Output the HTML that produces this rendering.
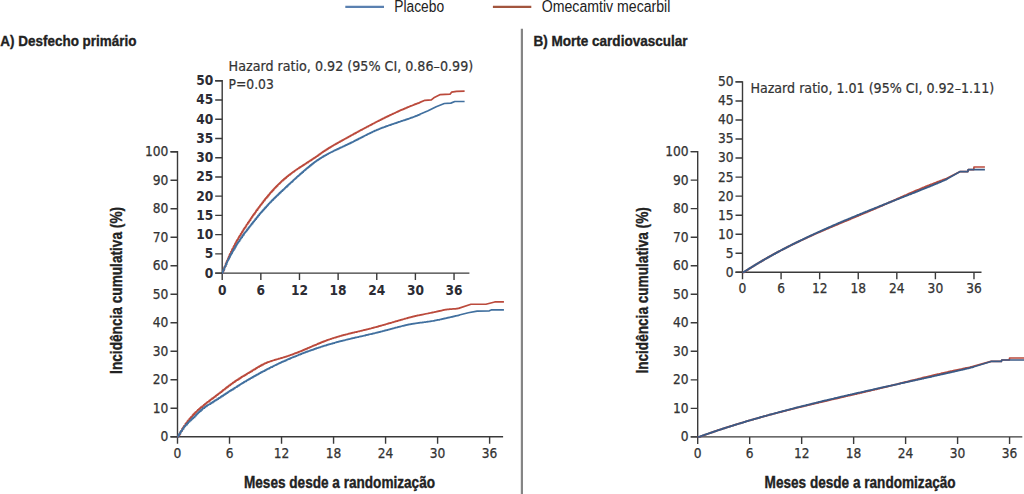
<!DOCTYPE html>
<html><head><meta charset="utf-8"><title>Kaplan-Meier</title>
<style>html,body{margin:0;padding:0;background:#fff;overflow:hidden}svg{display:block}</style>
</head><body>
<svg width="1024" height="494" viewBox="0 0 1024 494">
<rect width="1024" height="494" fill="#fff"/>
<path d="M345.3,6.9H384" stroke="#5a80b0" stroke-width="2.1"/>
<text x="394.3" y="11.6" font-family="'Liberation Sans',Arial,sans-serif" font-size="15.8" fill="#222" textLength="49.8" lengthAdjust="spacingAndGlyphs">Placebo</text>
<path d="M492.9,6.9H531.3" stroke="#a2553e" stroke-width="2.1"/>
<text x="541.8" y="11.6" font-family="'Liberation Sans',Arial,sans-serif" font-size="15.8" fill="#222" textLength="128.6" lengthAdjust="spacingAndGlyphs">Omecamtiv mecarbil</text>
<path d="M521.9,28.7V494" stroke="#858585" stroke-width="2.2"/>
<text x="0.3" y="45.6" font-family="'Liberation Sans',Arial,sans-serif" font-size="15.0" font-weight="bold" fill="#222" stroke="#222" stroke-width="0.35" textLength="136.2" lengthAdjust="spacingAndGlyphs">A) Desfecho primário</text>
<text x="533.4" y="46" font-family="'Liberation Sans',Arial,sans-serif" font-size="15.0" font-weight="bold" fill="#222" stroke="#222" stroke-width="0.35" textLength="154.2" lengthAdjust="spacingAndGlyphs">B) Morte cardiovascular</text>
<text x="244.0" y="487.6" font-family="'Liberation Sans',Arial,sans-serif" font-size="15.6" font-weight="bold" fill="#222" stroke="#222" stroke-width="0.35" textLength="191" lengthAdjust="spacingAndGlyphs">Meses desde a randomização</text>
<text x="764.6" y="487.6" font-family="'Liberation Sans',Arial,sans-serif" font-size="15.6" font-weight="bold" fill="#222" stroke="#222" stroke-width="0.35" textLength="191" lengthAdjust="spacingAndGlyphs">Meses desde a randomização</text>
<text transform="translate(122.0,373.9) rotate(-90)" x="0" y="0" font-family="'Liberation Sans',Arial,sans-serif" font-size="15.6" font-weight="bold" fill="#222" stroke="#222" stroke-width="0.35" textLength="167.0" lengthAdjust="spacingAndGlyphs">Incidência cumulativa (%)</text>
<text transform="translate(647.6,373.6) rotate(-90)" x="0" y="0" font-family="'Liberation Sans',Arial,sans-serif" font-size="15.6" font-weight="bold" fill="#222" stroke="#222" stroke-width="0.35" textLength="166.4" lengthAdjust="spacingAndGlyphs">Incidência cumulativa (%)</text>
<path d="M170.50,151.70H177.50V443.80" fill="none" stroke="#3a3a3a" stroke-width="1.4"/>
<path d="M170.50,436.80H503.10" fill="none" stroke="#3a3a3a" stroke-width="1.4"/>
<path d="M170.50,436.80H177.50M170.50,408.29H177.50M170.50,379.78H177.50M170.50,351.27H177.50M170.50,322.76H177.50M170.50,294.25H177.50M170.50,265.74H177.50M170.50,237.23H177.50M170.50,208.72H177.50M170.50,180.21H177.50M170.50,151.70H177.50M229.52,436.80V443.80M281.54,436.80V443.80M333.56,436.80V443.80M385.58,436.80V443.80M437.60,436.80V443.80M489.62,436.80V443.80" fill="none" stroke="#3a3a3a" stroke-width="1.4"/>
<text x="168.30" y="441.20" text-anchor="end" font-family="'DejaVu Sans Condensed','DejaVu Sans',sans-serif" font-size="13.6" font-weight="normal" fill="#333333" stroke="#333333" stroke-width="0.25">0</text>
<text x="168.30" y="412.69" text-anchor="end" font-family="'DejaVu Sans Condensed','DejaVu Sans',sans-serif" font-size="13.6" font-weight="normal" fill="#333333" stroke="#333333" stroke-width="0.25">10</text>
<text x="168.30" y="384.18" text-anchor="end" font-family="'DejaVu Sans Condensed','DejaVu Sans',sans-serif" font-size="13.6" font-weight="normal" fill="#333333" stroke="#333333" stroke-width="0.25">20</text>
<text x="168.30" y="355.67" text-anchor="end" font-family="'DejaVu Sans Condensed','DejaVu Sans',sans-serif" font-size="13.6" font-weight="normal" fill="#333333" stroke="#333333" stroke-width="0.25">30</text>
<text x="168.30" y="327.16" text-anchor="end" font-family="'DejaVu Sans Condensed','DejaVu Sans',sans-serif" font-size="13.6" font-weight="normal" fill="#333333" stroke="#333333" stroke-width="0.25">40</text>
<text x="168.30" y="298.65" text-anchor="end" font-family="'DejaVu Sans Condensed','DejaVu Sans',sans-serif" font-size="13.6" font-weight="normal" fill="#333333" stroke="#333333" stroke-width="0.25">50</text>
<text x="168.30" y="270.14" text-anchor="end" font-family="'DejaVu Sans Condensed','DejaVu Sans',sans-serif" font-size="13.6" font-weight="normal" fill="#333333" stroke="#333333" stroke-width="0.25">60</text>
<text x="168.30" y="241.63" text-anchor="end" font-family="'DejaVu Sans Condensed','DejaVu Sans',sans-serif" font-size="13.6" font-weight="normal" fill="#333333" stroke="#333333" stroke-width="0.25">70</text>
<text x="168.30" y="213.12" text-anchor="end" font-family="'DejaVu Sans Condensed','DejaVu Sans',sans-serif" font-size="13.6" font-weight="normal" fill="#333333" stroke="#333333" stroke-width="0.25">80</text>
<text x="168.30" y="184.61" text-anchor="end" font-family="'DejaVu Sans Condensed','DejaVu Sans',sans-serif" font-size="13.6" font-weight="normal" fill="#333333" stroke="#333333" stroke-width="0.25">90</text>
<text x="168.30" y="156.10" text-anchor="end" font-family="'DejaVu Sans Condensed','DejaVu Sans',sans-serif" font-size="13.6" font-weight="normal" fill="#333333" stroke="#333333" stroke-width="0.25">100</text>
<text x="177.50" y="458.20" text-anchor="middle" font-family="'DejaVu Sans Condensed','DejaVu Sans',sans-serif" font-size="13.6" font-weight="normal" fill="#333333" stroke="#333333" stroke-width="0.25">0</text>
<text x="229.52" y="458.20" text-anchor="middle" font-family="'DejaVu Sans Condensed','DejaVu Sans',sans-serif" font-size="13.6" font-weight="normal" fill="#333333" stroke="#333333" stroke-width="0.25">6</text>
<text x="281.54" y="458.20" text-anchor="middle" font-family="'DejaVu Sans Condensed','DejaVu Sans',sans-serif" font-size="13.6" font-weight="normal" fill="#333333" stroke="#333333" stroke-width="0.25">12</text>
<text x="333.56" y="458.20" text-anchor="middle" font-family="'DejaVu Sans Condensed','DejaVu Sans',sans-serif" font-size="13.6" font-weight="normal" fill="#333333" stroke="#333333" stroke-width="0.25">18</text>
<text x="385.58" y="458.20" text-anchor="middle" font-family="'DejaVu Sans Condensed','DejaVu Sans',sans-serif" font-size="13.6" font-weight="normal" fill="#333333" stroke="#333333" stroke-width="0.25">24</text>
<text x="437.60" y="458.20" text-anchor="middle" font-family="'DejaVu Sans Condensed','DejaVu Sans',sans-serif" font-size="13.6" font-weight="normal" fill="#333333" stroke="#333333" stroke-width="0.25">30</text>
<text x="489.62" y="458.20" text-anchor="middle" font-family="'DejaVu Sans Condensed','DejaVu Sans',sans-serif" font-size="13.6" font-weight="normal" fill="#333333" stroke="#333333" stroke-width="0.25">36</text>
<path d="M215.20,80.75H222.20V280.10" fill="none" stroke="#3a3a3a" stroke-width="1.4"/>
<path d="M215.20,273.10H469.40" fill="none" stroke="#3a3a3a" stroke-width="1.4"/>
<path d="M215.20,273.10H222.20M215.20,253.87H222.20M215.20,234.63H222.20M215.20,215.40H222.20M215.20,196.16H222.20M215.20,176.93H222.20M215.20,157.69H222.20M215.20,138.46H222.20M215.20,119.22H222.20M215.20,99.99H222.20M215.20,80.75H222.20M260.84,273.10V280.10M299.48,273.10V280.10M338.12,273.10V280.10M376.76,273.10V280.10M415.40,273.10V280.10M454.04,273.10V280.10" fill="none" stroke="#3a3a3a" stroke-width="1.4"/>
<text x="213.20" y="277.50" text-anchor="end" font-family="'DejaVu Sans Condensed','DejaVu Sans',sans-serif" font-size="13.6" font-weight="bold" fill="#2c2c34">0</text>
<text x="213.20" y="258.26" text-anchor="end" font-family="'DejaVu Sans Condensed','DejaVu Sans',sans-serif" font-size="13.6" font-weight="bold" fill="#2c2c34">5</text>
<text x="213.20" y="239.03" text-anchor="end" font-family="'DejaVu Sans Condensed','DejaVu Sans',sans-serif" font-size="13.6" font-weight="bold" fill="#2c2c34">10</text>
<text x="213.20" y="219.80" text-anchor="end" font-family="'DejaVu Sans Condensed','DejaVu Sans',sans-serif" font-size="13.6" font-weight="bold" fill="#2c2c34">15</text>
<text x="213.20" y="200.56" text-anchor="end" font-family="'DejaVu Sans Condensed','DejaVu Sans',sans-serif" font-size="13.6" font-weight="bold" fill="#2c2c34">20</text>
<text x="213.20" y="181.33" text-anchor="end" font-family="'DejaVu Sans Condensed','DejaVu Sans',sans-serif" font-size="13.6" font-weight="bold" fill="#2c2c34">25</text>
<text x="213.20" y="162.09" text-anchor="end" font-family="'DejaVu Sans Condensed','DejaVu Sans',sans-serif" font-size="13.6" font-weight="bold" fill="#2c2c34">30</text>
<text x="213.20" y="142.86" text-anchor="end" font-family="'DejaVu Sans Condensed','DejaVu Sans',sans-serif" font-size="13.6" font-weight="bold" fill="#2c2c34">35</text>
<text x="213.20" y="123.62" text-anchor="end" font-family="'DejaVu Sans Condensed','DejaVu Sans',sans-serif" font-size="13.6" font-weight="bold" fill="#2c2c34">40</text>
<text x="213.20" y="104.39" text-anchor="end" font-family="'DejaVu Sans Condensed','DejaVu Sans',sans-serif" font-size="13.6" font-weight="bold" fill="#2c2c34">45</text>
<text x="213.20" y="85.15" text-anchor="end" font-family="'DejaVu Sans Condensed','DejaVu Sans',sans-serif" font-size="13.6" font-weight="bold" fill="#2c2c34">50</text>
<text x="222.20" y="294.90" text-anchor="middle" font-family="'DejaVu Sans Condensed','DejaVu Sans',sans-serif" font-size="13.6" font-weight="bold" fill="#2c2c34">0</text>
<text x="260.84" y="294.90" text-anchor="middle" font-family="'DejaVu Sans Condensed','DejaVu Sans',sans-serif" font-size="13.6" font-weight="bold" fill="#2c2c34">6</text>
<text x="299.48" y="294.90" text-anchor="middle" font-family="'DejaVu Sans Condensed','DejaVu Sans',sans-serif" font-size="13.6" font-weight="bold" fill="#2c2c34">12</text>
<text x="338.12" y="294.90" text-anchor="middle" font-family="'DejaVu Sans Condensed','DejaVu Sans',sans-serif" font-size="13.6" font-weight="bold" fill="#2c2c34">18</text>
<text x="376.76" y="294.90" text-anchor="middle" font-family="'DejaVu Sans Condensed','DejaVu Sans',sans-serif" font-size="13.6" font-weight="bold" fill="#2c2c34">24</text>
<text x="415.40" y="294.90" text-anchor="middle" font-family="'DejaVu Sans Condensed','DejaVu Sans',sans-serif" font-size="13.6" font-weight="bold" fill="#2c2c34">30</text>
<text x="454.04" y="294.90" text-anchor="middle" font-family="'DejaVu Sans Condensed','DejaVu Sans',sans-serif" font-size="13.6" font-weight="bold" fill="#2c2c34">36</text>
<path d="M690.70,151.60H697.70V443.90" fill="none" stroke="#3a3a3a" stroke-width="1.4"/>
<path d="M690.70,436.90H1022.30" fill="none" stroke="#3a3a3a" stroke-width="1.4"/>
<path d="M690.70,436.90H697.70M690.70,408.37H697.70M690.70,379.84H697.70M690.70,351.31H697.70M690.70,322.78H697.70M690.70,294.25H697.70M690.70,265.72H697.70M690.70,237.19H697.70M690.70,208.66H697.70M690.70,180.13H697.70M690.70,151.60H697.70M749.68,436.90V443.90M801.66,436.90V443.90M853.63,436.90V443.90M905.61,436.90V443.90M957.59,436.90V443.90M1009.57,436.90V443.90" fill="none" stroke="#3a3a3a" stroke-width="1.4"/>
<text x="688.60" y="441.30" text-anchor="end" font-family="'DejaVu Sans Condensed','DejaVu Sans',sans-serif" font-size="13.6" font-weight="normal" fill="#333333" stroke="#333333" stroke-width="0.25">0</text>
<text x="688.60" y="412.77" text-anchor="end" font-family="'DejaVu Sans Condensed','DejaVu Sans',sans-serif" font-size="13.6" font-weight="normal" fill="#333333" stroke="#333333" stroke-width="0.25">10</text>
<text x="688.60" y="384.24" text-anchor="end" font-family="'DejaVu Sans Condensed','DejaVu Sans',sans-serif" font-size="13.6" font-weight="normal" fill="#333333" stroke="#333333" stroke-width="0.25">20</text>
<text x="688.60" y="355.71" text-anchor="end" font-family="'DejaVu Sans Condensed','DejaVu Sans',sans-serif" font-size="13.6" font-weight="normal" fill="#333333" stroke="#333333" stroke-width="0.25">30</text>
<text x="688.60" y="327.18" text-anchor="end" font-family="'DejaVu Sans Condensed','DejaVu Sans',sans-serif" font-size="13.6" font-weight="normal" fill="#333333" stroke="#333333" stroke-width="0.25">40</text>
<text x="688.60" y="298.65" text-anchor="end" font-family="'DejaVu Sans Condensed','DejaVu Sans',sans-serif" font-size="13.6" font-weight="normal" fill="#333333" stroke="#333333" stroke-width="0.25">50</text>
<text x="688.60" y="270.12" text-anchor="end" font-family="'DejaVu Sans Condensed','DejaVu Sans',sans-serif" font-size="13.6" font-weight="normal" fill="#333333" stroke="#333333" stroke-width="0.25">60</text>
<text x="688.60" y="241.59" text-anchor="end" font-family="'DejaVu Sans Condensed','DejaVu Sans',sans-serif" font-size="13.6" font-weight="normal" fill="#333333" stroke="#333333" stroke-width="0.25">70</text>
<text x="688.60" y="213.06" text-anchor="end" font-family="'DejaVu Sans Condensed','DejaVu Sans',sans-serif" font-size="13.6" font-weight="normal" fill="#333333" stroke="#333333" stroke-width="0.25">80</text>
<text x="688.60" y="184.53" text-anchor="end" font-family="'DejaVu Sans Condensed','DejaVu Sans',sans-serif" font-size="13.6" font-weight="normal" fill="#333333" stroke="#333333" stroke-width="0.25">90</text>
<text x="688.60" y="156.00" text-anchor="end" font-family="'DejaVu Sans Condensed','DejaVu Sans',sans-serif" font-size="13.6" font-weight="normal" fill="#333333" stroke="#333333" stroke-width="0.25">100</text>
<text x="697.70" y="458.20" text-anchor="middle" font-family="'DejaVu Sans Condensed','DejaVu Sans',sans-serif" font-size="13.6" font-weight="normal" fill="#333333" stroke="#333333" stroke-width="0.25">0</text>
<text x="749.68" y="458.20" text-anchor="middle" font-family="'DejaVu Sans Condensed','DejaVu Sans',sans-serif" font-size="13.6" font-weight="normal" fill="#333333" stroke="#333333" stroke-width="0.25">6</text>
<text x="801.66" y="458.20" text-anchor="middle" font-family="'DejaVu Sans Condensed','DejaVu Sans',sans-serif" font-size="13.6" font-weight="normal" fill="#333333" stroke="#333333" stroke-width="0.25">12</text>
<text x="853.63" y="458.20" text-anchor="middle" font-family="'DejaVu Sans Condensed','DejaVu Sans',sans-serif" font-size="13.6" font-weight="normal" fill="#333333" stroke="#333333" stroke-width="0.25">18</text>
<text x="905.61" y="458.20" text-anchor="middle" font-family="'DejaVu Sans Condensed','DejaVu Sans',sans-serif" font-size="13.6" font-weight="normal" fill="#333333" stroke="#333333" stroke-width="0.25">24</text>
<text x="957.59" y="458.20" text-anchor="middle" font-family="'DejaVu Sans Condensed','DejaVu Sans',sans-serif" font-size="13.6" font-weight="normal" fill="#333333" stroke="#333333" stroke-width="0.25">30</text>
<text x="1009.57" y="458.20" text-anchor="middle" font-family="'DejaVu Sans Condensed','DejaVu Sans',sans-serif" font-size="13.6" font-weight="normal" fill="#333333" stroke="#333333" stroke-width="0.25">36</text>
<path d="M735.50,81.90H742.50V279.30" fill="none" stroke="#3a3a3a" stroke-width="1.4"/>
<path d="M735.50,272.30H981.50" fill="none" stroke="#3a3a3a" stroke-width="1.4"/>
<path d="M735.50,272.30H742.50M735.50,253.26H742.50M735.50,234.22H742.50M735.50,215.18H742.50M735.50,196.14H742.50M735.50,177.10H742.50M735.50,158.06H742.50M735.50,139.02H742.50M735.50,119.98H742.50M735.50,100.94H742.50M735.50,81.90H742.50M781.08,272.30V279.30M819.66,272.30V279.30M858.24,272.30V279.30M896.82,272.30V279.30M935.40,272.30V279.30M973.98,272.30V279.30" fill="none" stroke="#3a3a3a" stroke-width="1.4"/>
<text x="733.60" y="276.70" text-anchor="end" font-family="'DejaVu Sans Condensed','DejaVu Sans',sans-serif" font-size="13.6" font-weight="normal" fill="#333333" stroke="#333333" stroke-width="0.25">0</text>
<text x="733.60" y="257.66" text-anchor="end" font-family="'DejaVu Sans Condensed','DejaVu Sans',sans-serif" font-size="13.6" font-weight="normal" fill="#333333" stroke="#333333" stroke-width="0.25">5</text>
<text x="733.60" y="238.62" text-anchor="end" font-family="'DejaVu Sans Condensed','DejaVu Sans',sans-serif" font-size="13.6" font-weight="normal" fill="#333333" stroke="#333333" stroke-width="0.25">10</text>
<text x="733.60" y="219.58" text-anchor="end" font-family="'DejaVu Sans Condensed','DejaVu Sans',sans-serif" font-size="13.6" font-weight="normal" fill="#333333" stroke="#333333" stroke-width="0.25">15</text>
<text x="733.60" y="200.54" text-anchor="end" font-family="'DejaVu Sans Condensed','DejaVu Sans',sans-serif" font-size="13.6" font-weight="normal" fill="#333333" stroke="#333333" stroke-width="0.25">20</text>
<text x="733.60" y="181.50" text-anchor="end" font-family="'DejaVu Sans Condensed','DejaVu Sans',sans-serif" font-size="13.6" font-weight="normal" fill="#333333" stroke="#333333" stroke-width="0.25">25</text>
<text x="733.60" y="162.46" text-anchor="end" font-family="'DejaVu Sans Condensed','DejaVu Sans',sans-serif" font-size="13.6" font-weight="normal" fill="#333333" stroke="#333333" stroke-width="0.25">30</text>
<text x="733.60" y="143.42" text-anchor="end" font-family="'DejaVu Sans Condensed','DejaVu Sans',sans-serif" font-size="13.6" font-weight="normal" fill="#333333" stroke="#333333" stroke-width="0.25">35</text>
<text x="733.60" y="124.38" text-anchor="end" font-family="'DejaVu Sans Condensed','DejaVu Sans',sans-serif" font-size="13.6" font-weight="normal" fill="#333333" stroke="#333333" stroke-width="0.25">40</text>
<text x="733.60" y="105.34" text-anchor="end" font-family="'DejaVu Sans Condensed','DejaVu Sans',sans-serif" font-size="13.6" font-weight="normal" fill="#333333" stroke="#333333" stroke-width="0.25">45</text>
<text x="733.60" y="86.30" text-anchor="end" font-family="'DejaVu Sans Condensed','DejaVu Sans',sans-serif" font-size="13.6" font-weight="normal" fill="#333333" stroke="#333333" stroke-width="0.25">50</text>
<text x="742.50" y="293.40" text-anchor="middle" font-family="'DejaVu Sans Condensed','DejaVu Sans',sans-serif" font-size="13.6" font-weight="normal" fill="#333333" stroke="#333333" stroke-width="0.25">0</text>
<text x="781.08" y="293.40" text-anchor="middle" font-family="'DejaVu Sans Condensed','DejaVu Sans',sans-serif" font-size="13.6" font-weight="normal" fill="#333333" stroke="#333333" stroke-width="0.25">6</text>
<text x="819.66" y="293.40" text-anchor="middle" font-family="'DejaVu Sans Condensed','DejaVu Sans',sans-serif" font-size="13.6" font-weight="normal" fill="#333333" stroke="#333333" stroke-width="0.25">12</text>
<text x="858.24" y="293.40" text-anchor="middle" font-family="'DejaVu Sans Condensed','DejaVu Sans',sans-serif" font-size="13.6" font-weight="normal" fill="#333333" stroke="#333333" stroke-width="0.25">18</text>
<text x="896.82" y="293.40" text-anchor="middle" font-family="'DejaVu Sans Condensed','DejaVu Sans',sans-serif" font-size="13.6" font-weight="normal" fill="#333333" stroke="#333333" stroke-width="0.25">24</text>
<text x="935.40" y="293.40" text-anchor="middle" font-family="'DejaVu Sans Condensed','DejaVu Sans',sans-serif" font-size="13.6" font-weight="normal" fill="#333333" stroke="#333333" stroke-width="0.25">30</text>
<text x="973.98" y="293.40" text-anchor="middle" font-family="'DejaVu Sans Condensed','DejaVu Sans',sans-serif" font-size="13.6" font-weight="normal" fill="#333333" stroke="#333333" stroke-width="0.25">36</text>
<path d="M177.50,436.80H178.55V434.73H179.97V432.24H180.71V430.98H182.12V428.69H183.01V427.32H183.98V425.85H185.30V423.97H186.26V422.64H187.34V421.21H187.99V420.38H189.24V418.84H190.31V417.57H191.21V416.54H192.49V415.13H193.37V414.20H194.37V413.17H195.11V412.43H196.07V411.50H196.86V410.74H197.70V409.96H198.95V408.84H199.81V408.08H200.84V407.20H202.28V405.99H203.70V404.83H204.93V403.85H206.01V403.00H206.86V402.33H207.62V401.75H209.05V400.65H210.10V399.85H210.82V399.31H211.97V398.45H213.24V397.49H214.37V396.64H215.76V395.59H216.42V395.09H217.48V394.28H218.49V393.50H219.16V392.98H220.32V392.08H221.66V391.04H222.77V390.16H223.61V389.51H224.94V388.48H225.99V387.67H227.04V386.86H228.29V385.91H229.03V385.35H230.34V384.37H231.53V383.50H232.81V382.59H233.60V382.04H234.89V381.16H235.67V380.63H236.36V380.17H237.70V379.29H239.04V378.43H240.40V377.57H241.41V376.94H242.26V376.41H242.89V376.03H244.06V375.32H245.28V374.58H246.60V373.78H247.46V373.27H248.26V372.78H249.42V372.09H250.71V371.31H252.14V370.45H252.89V369.99H253.91V369.37H255.28V368.53H256.26V367.94H257.37V367.27H258.02V366.89H259.20V366.20H260.59V365.42H261.90V364.71H263.27V364.01H264.44V363.45H265.27V363.07H266.53V362.54H267.33V362.22H268.65V361.73H269.33V361.49H270.64V361.05H271.40V360.81H272.33V360.52H273.22V360.25H274.42V359.90H275.19V359.68H276.15V359.41H276.78V359.23H277.62V358.99H278.60V358.70H279.31V358.49H280.46V358.15H281.40V357.86H282.63V357.48H283.80V357.11H284.78V356.80H286.13V356.36H287.28V355.98H288.57V355.54H289.48V355.23H290.56V354.85H291.35V354.58H292.80V354.05H293.63V353.75H294.47V353.44H295.15V353.18H295.99V352.87H297.25V352.38H298.45V351.91H299.19V351.62H300.12V351.24H301.10V350.84H302.28V350.36H303.28V349.94H304.39V349.47H305.71V348.90H306.94V348.37H307.87V347.97H308.87V347.54H309.80V347.13H310.51V346.82H311.31V346.48H312.17V346.10H313.05V345.72H313.94V345.33H315.04V344.86H316.48V344.25H317.75V343.71H319.03V343.17H320.28V342.65H321.41V342.20H322.79V341.65H323.99V341.18H325.03V340.79H325.72V340.53H326.75V340.15H327.55V339.86H328.29V339.60H329.33V339.24H330.61V338.81H331.48V338.52H332.74V338.11H333.81V337.77H334.55V337.54H335.98V337.11H336.94V336.82H337.81V336.57H339.14V336.18H339.87V335.98H341.10V335.63H341.88V335.42H342.83V335.16H343.65V334.94H344.98V334.59H345.92V334.35H347.36V333.98H348.50V333.69H349.71V333.39H350.76V333.13H351.65V332.92H352.60V332.68H354.01V332.34H354.80V332.15H356.25V331.81H357.50V331.51H358.42V331.29H359.58V331.01H360.52V330.78H361.47V330.56H362.51V330.31H363.15V330.16H364.18V329.91H365.62V329.56H366.48V329.35H367.72V329.04H368.72V328.79H369.52V328.59H370.89V328.24H371.53V328.07H372.41V327.85H373.86V327.46H374.71V327.24H376.04V326.88H377.17V326.57H378.46V326.21H379.61V325.88H380.54V325.62H381.79V325.27H382.44V325.08H383.44V324.79H384.37V324.53H385.39V324.23H386.12V324.02H386.93V323.78H388.02V323.46H388.97V323.19H390.25V322.81H391.38V322.48H392.72V322.09H393.96V321.73H395.08V321.40H395.94V321.15H397.22V320.78H398.05V320.54H398.74V320.34H400.17V319.94H401.24V319.63H402.51V319.27H403.57V318.98H404.71V318.67H405.36V318.49H406.14V318.28H407.32V317.96H408.42V317.66H409.18V317.47H410.60V317.10H411.35V316.91H412.40V316.65H413.14V316.46H414.36V316.16H415.22V315.96H415.95V315.79H416.62V315.63H417.39V315.46H418.17V315.28H419.24V315.05H420.24V314.83H421.66V314.54H423.08V314.25H424.37V314.00H425.55V313.77H426.88V313.51H428.28V313.24H428.93V313.12H429.65V312.98H430.57V312.80H431.27V312.66H432.40V312.43H433.24V312.26H434.08V312.09H434.95V311.90H435.65V311.75H436.89V311.47H438.06V311.20H439.19V310.94H439.84V310.78H440.82V310.55H442.02V310.27H442.77V310.11H443.72V309.91H444.36V309.79H445.05V309.66H445.85V309.53H446.82V309.40H447.83V309.29H449.19V309.17H450.08V309.11H450.72V309.06H452.04V308.98H452.71V308.94H453.41V308.89H454.84V308.78H456.09V308.65H457.00V308.54H457.73V308.42H458.68V308.25H459.27V308.13L470.98,304.23L485.89,304.23L494.74,301.95L503.93,301.95" fill="none" stroke="#bb4a3c" stroke-width="1.7" stroke-linejoin="round"/>
<path d="M177.50,436.80H178.34V435.22H179.21V433.72H180.52V431.63H181.22V430.58H182.34V428.99H183.57V427.37H184.35V426.40H185.02V425.61H185.88V424.64H187.05V423.37H188.14V422.24H188.89V421.49H189.87V420.52H191.05V419.39H192.03V418.47H193.18V417.38H194.61V416.02H195.80V414.85H196.75V413.90H197.53V413.12H198.45V412.22H199.50V411.20H200.86V409.94H202.13V408.84H203.02V408.13H204.41V407.11H205.43V406.41H206.63V405.64H207.35V405.19H208.06V404.75H208.85V404.26H210.21V403.41H211.40V402.66H212.73V401.82H213.89V401.09H214.85V400.47H215.91V399.80H217.03V399.08H218.37V398.22H219.36V397.58H220.72V396.69H221.86V395.96H223.17V395.11H224.21V394.43H225.41V393.65H226.32V393.06H227.38V392.38H228.18V391.86H228.89V391.40H229.55V390.97H230.76V390.20H231.76V389.55H233.13V388.67H234.45V387.83H235.40V387.23H236.83V386.32H237.95V385.62H239.21V384.84H240.17V384.24H240.96V383.76H241.73V383.29H242.50V382.82H243.63V382.13H244.35V381.70H244.99V381.32H246.30V380.53H247.01V380.12H248.01V379.53H249.04V378.93H250.18V378.26H251.23V377.66H252.63V376.86H253.88V376.16H254.98V375.54H256.12V374.90H257.17V374.33H258.59V373.55H259.41V373.10H260.60V372.46H261.69V371.88H262.35V371.53H263.22V371.07H264.62V370.33H265.89V369.67H266.53V369.34H267.40V368.90H268.03V368.57H269.34V367.91H270.06V367.55H270.73V367.21H272.17V366.50H273.17V366.01H274.06V365.57H274.72V365.25H275.67V364.79H276.60V364.35H277.66V363.85H278.29V363.55H279.04V363.20H279.84V362.82H280.83V362.37H281.70V361.96H282.84V361.45H283.70V361.06H285.08V360.44H286.51V359.80H287.18V359.51H287.98V359.16H289.07V358.69H290.34V358.14H291.01V357.85H291.79V357.52H292.80V357.10H293.98V356.61H295.35V356.05H296.70V355.50H297.98V354.98H298.65V354.72H300.09V354.15H301.23V353.71H301.92V353.44H302.76V353.11H303.90V352.68H304.84V352.32H305.84V351.95H307.13V351.47H308.44V350.99H309.52V350.60H310.81V350.14H311.77V349.80H313.20V349.30H314.33V348.91H315.76V348.43H316.42V348.20H317.78V347.75H318.87V347.39H320.09V347.00H320.87V346.74H321.96V346.40H322.82V346.12H323.53V345.90H324.16V345.71H325.54V345.28H326.72V344.92H327.52V344.68H328.35V344.43H329.37V344.14H330.67V343.76H331.39V343.55H332.82V343.14H334.23V342.75H335.06V342.52H336.22V342.21H337.14V341.96H338.35V341.64H339.04V341.46H340.06V341.19H341.17V340.91H342.32V340.62H343.52V340.31H344.89V339.98H345.71V339.77H346.46V339.59H347.41V339.36H348.51V339.10H349.93V338.76H351.15V338.47H352.39V338.18H353.82V337.85H354.67V337.65H355.51V337.46H356.49V337.24H357.36V337.04H358.52V336.77H359.94V336.45H360.69V336.28H361.75V336.04H362.93V335.77H363.97V335.53H365.35V335.22H366.59V334.93H367.95V334.62H368.67V334.46H369.45V334.27H370.13V334.12H371.45V333.81H372.87V333.47H373.51V333.32H374.79V333.02H376.02V332.72H377.40V332.39H378.25V332.18H379.47V331.88H380.29V331.67H380.98V331.50H382.22V331.18H382.88V331.01H384.09V330.70H384.95V330.47H385.98V330.20H387.34V329.83H388.17V329.61H389.19V329.33H390.11V329.08H390.89V328.86H391.91V328.58H392.68V328.37H393.97V328.02H395.11V327.71H395.97V327.48H397.40V327.09H398.31V326.85H399.50V326.55H400.73V326.23H401.58V326.02H402.21V325.87H403.58V325.54H405.00V325.21H405.76V325.04H406.51V324.88H407.50V324.67H408.62V324.44H410.07V324.17H411.49V323.92H412.94V323.68H413.77V323.55H414.89V323.38H415.88V323.24H416.70V323.13H417.37V323.03H418.14V322.93H419.06V322.81H419.76V322.72H420.51V322.62H421.17V322.54H422.31V322.39H423.35V322.26H424.17V322.15H425.24V322.01H426.21V321.87H427.39V321.70H428.79V321.50H429.71V321.35H430.87V321.16H431.67V321.02H433.08V320.78H434.22V320.57H434.97V320.43H435.81V320.27H436.57V320.12H437.34V319.96H438.22V319.79H439.53V319.52H440.54V319.30H441.39V319.12H442.36V318.91H443.21V318.72H444.45V318.45H445.12V318.29H445.98V318.10H446.88V317.89H447.65V317.71H448.89V317.43H449.67V317.25H450.54V317.04H451.21V316.88H452.46V316.59H453.39V316.37H454.56V316.09H455.37V315.90H456.01V315.75H456.90V315.54H458.17V315.25H459.27V314.99L468.29,312.78L477.14,311.07L489.36,310.79L491.18,309.93L503.93,309.93" fill="none" stroke="#41709f" stroke-width="1.7" stroke-linejoin="round"/>
<path d="M222.20,273.10H222.98V270.55H224.03V267.74H224.58V266.30H225.63V263.64H226.29V262.03H227.02V260.29H227.99V258.01H228.71V256.38H229.51V254.61H229.99V253.57H230.92V251.60H231.72V249.96H232.39V248.61H233.34V246.74H233.99V245.49H234.73V244.09H235.28V243.07H235.99V241.78H236.58V240.72H237.21V239.62H238.13V238.01H238.77V236.93H239.54V235.65H240.61V233.89H241.66V232.18H242.58V230.73H243.37V229.47H244.01V228.49H244.57V227.61H245.63V225.98H246.42V224.79H246.95V223.98H247.80V222.69H248.75V221.28H249.59V220.03H250.62V218.51H251.11V217.80H251.90V216.65H252.65V215.57H253.15V214.85H254.01V213.63H255.00V212.23H255.83V211.07H256.45V210.21H257.44V208.86H258.22V207.80H258.99V206.75H259.92V205.51H260.48V204.77H261.45V203.50H262.34V202.36H263.29V201.14H263.87V200.41H264.83V199.20H265.41V198.48H265.92V197.85H266.92V196.65H267.91V195.45H268.92V194.27H269.67V193.39H270.31V192.66H270.77V192.13H271.64V191.16H272.55V190.15H273.53V189.08H274.16V188.39H274.76V187.76H275.62V186.86H276.58V185.87H277.64V184.81H278.20V184.25H278.96V183.51H279.98V182.54H280.70V181.86H281.53V181.09H282.01V180.66H282.89V179.87H283.92V178.97H284.90V178.14H285.91V177.30H286.78V176.58H287.39V176.09H288.33V175.35H288.93V174.88H289.90V174.13H290.41V173.75H291.38V173.03H291.95V172.61H292.64V172.10H293.30V171.63H294.19V171.00H294.77V170.59H295.48V170.10H295.94V169.77H296.57V169.34H297.29V168.85H297.82V168.49H298.68V167.92H299.38V167.45H300.29V166.85H301.16V166.28H301.89V165.81H302.89V165.16H303.74V164.60H304.71V163.98H305.38V163.55H306.18V163.03H306.77V162.65H307.84V161.96H308.46V161.56H309.08V161.16H309.59V160.83H310.21V160.42H311.15V159.81H312.04V159.22H312.59V158.86H313.28V158.40H314.01V157.91H314.88V157.32H315.63V156.81H316.45V156.24H317.44V155.56H318.35V154.91H319.04V154.42H319.78V153.89H320.47V153.40H321.00V153.02H321.59V152.61H322.23V152.16H322.89V151.71H323.55V151.26H324.37V150.71H325.43V150.01H326.37V149.40H327.33V148.80H328.26V148.22H329.09V147.70H330.12V147.08H331.01V146.55H331.79V146.09H332.30V145.79H333.06V145.34H333.66V145.00H334.20V144.68H334.98V144.24H335.93V143.69H336.58V143.33H337.51V142.80H338.30V142.35H338.86V142.04H339.92V141.45H340.63V141.05H341.28V140.69H342.26V140.14H342.81V139.84H343.72V139.33H344.30V139.01H345.01V138.62H345.62V138.28H346.60V137.74H347.30V137.35H348.37V136.76H349.22V136.29H350.11V135.80H350.90V135.37H351.55V135.01H352.26V134.62H353.31V134.04H353.90V133.72H354.97V133.13H355.90V132.62H356.59V132.25H357.45V131.78H358.15V131.40H358.85V131.02H359.62V130.60H360.10V130.34H360.87V129.93H361.93V129.35H362.57V129.01H363.50V128.51H364.23V128.12H364.83V127.80H365.85V127.25H366.32V127.00H366.98V126.66H368.06V126.08H368.68V125.75H369.67V125.23H370.51V124.79H371.47V124.29H372.33V123.84H373.01V123.48H373.95V123.00H374.43V122.75H375.17V122.37H375.86V122.01H376.62V121.62H377.16V121.35H377.76V121.04H378.57V120.63H379.28V120.27H380.23V119.79H381.07V119.37H382.06V118.87H382.98V118.41H383.82V118.00H384.46V117.68H385.41V117.22H386.02V116.91H386.54V116.67H387.59V116.15H388.39V115.77H389.33V115.31H390.12V114.94H390.97V114.54H391.45V114.31H392.03V114.03H392.91V113.62H393.73V113.24H394.29V112.98H395.34V112.49H395.90V112.24H396.68V111.88H397.23V111.63H398.14V111.22H398.77V110.94H399.32V110.69H399.81V110.47H400.38V110.22H400.97V109.96H401.76V109.61H402.51V109.29H403.56V108.83H404.61V108.38H405.57V107.98H406.45V107.61H407.44V107.20H408.48V106.77H408.96V106.57H409.49V106.35H410.18V106.07H410.70V105.86H411.54V105.53H412.16V105.28H412.79V105.03H413.43V104.78H413.95V104.58H414.88V104.22H415.74V103.89H416.58V103.58H417.06V103.40H417.79V103.13H418.68V102.80H419.24V102.60H419.91V102.35L424.93,100.29L431.31,99.91L433.82,97.79L440.32,94.60L449.98,94.21L451.59,92.18L456.49,91.29L464.60,91.21" fill="none" stroke="#bb4a3c" stroke-width="1.7" stroke-linejoin="round"/>
<path d="M222.20,273.10H222.83V270.93H223.47V269.40H224.44V267.18H224.96V266.02H225.80V264.19H226.71V262.24H227.29V261.03H227.79V260.01H228.42V258.73H229.29V257.02H230.10V255.47H230.66V254.42H231.39V253.07H232.27V251.49H232.99V250.22H233.85V248.75H234.91V246.97H235.80V245.53H236.50V244.40H237.08V243.49H237.76V242.44H238.54V241.26H239.55V239.75H240.50V238.37H241.16V237.43H242.19V235.97H242.95V234.92H243.84V233.71H244.37V232.99H244.90V232.28H245.49V231.50H246.50V230.17H247.38V229.02H248.37V227.74H249.23V226.64H249.95V225.73H250.73V224.73H251.56V223.68H252.56V222.42H253.29V221.50H254.31V220.23H255.15V219.19H256.13V217.99H256.90V217.04H257.79V215.96H258.46V215.15H259.25V214.22H259.85V213.51H260.37V212.89H260.86V212.32H261.76V211.28H262.50V210.43H263.52V209.27H264.50V208.18H265.20V207.40H266.27V206.24H267.10V205.35H268.04V204.35H268.75V203.60H269.34V202.98H269.91V202.39H270.48V201.80H271.32V200.94H271.85V200.40H272.33V199.91H273.31V198.93H273.83V198.41H274.57V197.67H275.34V196.92H276.19V196.09H276.96V195.33H278.01V194.33H278.93V193.44H279.75V192.66H280.60V191.86H281.37V191.12H282.44V190.13H283.04V189.56H283.93V188.73H284.74V187.98H285.22V187.53H285.87V186.93H286.91V185.97H287.86V185.09H288.33V184.66H288.98V184.06H289.45V183.62H290.42V182.73H290.95V182.24H291.45V181.78H292.52V180.80H293.26V180.12H293.92V179.52H294.42V179.07H295.12V178.43H295.81V177.80H296.60V177.09H297.07V176.67H297.62V176.17H298.22V175.64H298.95V174.98H299.60V174.40H300.44V173.65H301.08V173.09H302.11V172.19H303.17V171.27H303.67V170.83H304.26V170.32H305.07V169.62H306.01V168.82H306.52V168.39H307.10V167.90H307.84V167.28H308.72V166.55H309.74V165.71H310.74V164.90H311.69V164.15H312.19V163.76H313.26V162.94H314.10V162.31H314.62V161.93H315.24V161.48H316.09V160.87H316.79V160.38H317.53V159.88H318.49V159.24H319.46V158.60H320.27V158.09H321.22V157.50H321.93V157.06H323.00V156.42H323.84V155.93H324.90V155.32H325.39V155.05H326.40V154.49H327.21V154.05H328.11V153.56H328.70V153.26H329.50V152.84H330.14V152.51H330.67V152.24H331.14V152.00H332.16V151.49H333.04V151.06H333.63V150.77H334.25V150.46H335.01V150.10H335.97V149.64H336.51V149.39H337.57V148.89H338.62V148.40H339.24V148.11H340.10V147.71H340.78V147.39H341.68V146.98H342.19V146.74H342.95V146.39H343.78V146.00H344.63V145.61H345.52V145.19H346.53V144.72H347.15V144.43H347.70V144.16H348.41V143.82H349.22V143.43H350.28V142.92H351.19V142.47H352.11V142.01H353.17V141.48H353.80V141.16H354.42V140.84H355.15V140.47H355.80V140.14H356.66V139.70H357.71V139.15H358.27V138.86H359.06V138.46H359.94V138.00H360.71V137.60H361.74V137.07H362.65V136.59H363.66V136.08H364.20V135.80H364.78V135.50H365.29V135.25H366.26V134.75H367.32V134.22H367.79V133.99H368.75V133.52H369.66V133.07H370.68V132.58H371.31V132.28H372.22V131.86H372.83V131.58H373.34V131.34H374.27V130.93H374.76V130.71H375.65V130.32H376.29V130.04H377.06V129.72H378.07V129.29H378.68V129.04H379.44V128.74H380.12V128.46H380.70V128.23H381.46V127.94H382.04V127.72H382.99V127.35H383.84V127.03H384.48V126.80H385.54V126.41H386.22V126.16H387.10V125.85H388.01V125.52H388.64V125.30H389.11V125.14H390.13V124.79H391.18V124.42H391.75V124.23H392.31V124.04H393.04V123.80H393.87V123.52H394.95V123.16H396.01V122.80H397.08V122.45H397.70V122.25H398.53V121.97H399.27V121.73H399.87V121.53H400.38V121.36H400.94V121.17H401.63V120.94H402.15V120.77H402.70V120.59H403.20V120.42H404.05V120.14H404.81V119.88H405.43V119.67H406.22V119.40H406.94V119.15H407.81V118.85H408.85V118.49H409.54V118.25H410.40V117.94H411.00V117.72H412.04V117.34H412.89V117.03H413.45V116.82H414.07V116.59H414.63V116.38H415.21V116.16H415.86V115.90H416.84V115.52H417.58V115.22H418.22V114.97H418.94V114.67H419.57V114.41H419.91V114.27L428.09,110.80L436.20,106.72L444.32,103.49L450.82,103.10L454.81,101.52L464.60,101.52" fill="none" stroke="#41709f" stroke-width="1.7" stroke-linejoin="round"/>
<path d="M697.70,436.90H698.75V436.90H700.16V436.41H700.91V436.14H702.32V435.62H703.20V435.30H704.18V434.95H705.49V434.48H706.45V434.13H707.54V433.75H708.18V433.52H709.43V433.08H710.50V432.70H711.40V432.39H712.68V431.94H713.56V431.64H714.56V431.30H715.29V431.05H716.25V430.72H717.05V430.45H717.89V430.17H719.13V429.75H719.99V429.46H721.02V429.12H722.46V428.65H723.88V428.18H725.11V427.78H726.18V427.43H727.04V427.16H727.79V426.91H729.22V426.46H730.28V426.12H731.00V425.89H732.14V425.53H733.41V425.14H734.54V424.78H735.93V424.35H736.59V424.15H737.65V423.83H738.65V423.52H739.33V423.31H740.49V422.96H741.82V422.56H742.94V422.23H743.78V421.98H745.10V421.58H746.15V421.27H747.20V420.97H748.45V420.60H749.19V420.38H750.50V420.01H751.69V419.66H752.97V419.30H753.75V419.07H755.04V418.70H755.83V418.48H756.52V418.29H757.85V417.91H759.19V417.54H760.54V417.16H761.56V416.88H762.41V416.65H763.04V416.47H764.20V416.16H765.42V415.82H766.74V415.47H767.60V415.23H768.40V415.02H769.56V414.71H770.85V414.36H772.28V413.98H773.03V413.79H774.05V413.52H775.42V413.16H776.40V412.90H777.51V412.61H778.15V412.44H779.34V412.14H780.73V411.78H782.04V411.44H783.40V411.09H784.57V410.80H785.40V410.59H786.66V410.27H787.46V410.06H788.78V409.73H789.45V409.56H790.76V409.24H791.52V409.05H792.46V408.81H793.34V408.59H794.54V408.30H795.32V408.11H796.27V407.87H796.90V407.72H797.74V407.51H798.71V407.27H799.43V407.10H800.58V406.82H801.52V406.59H802.74V406.29H803.91V406.01H804.89V405.77H806.24V405.45H807.39V405.17H808.68V404.86H809.59V404.64H810.67V404.39H811.46V404.20H812.91V403.86H813.73V403.66H814.57V403.46H815.26V403.30H816.09V403.10H817.35V402.81H818.56V402.52H819.29V402.35H820.22V402.13H821.20V401.90H822.37V401.63H823.38V401.39H824.49V401.13H825.81V400.82H827.04V400.54H827.97V400.32H828.96V400.09H829.89V399.87H830.61V399.71H831.40V399.52H832.26V399.32H833.14V399.12H834.03V398.91H835.13V398.66H836.56V398.33H837.83V398.03H839.11V397.74H840.37V397.45H841.49V397.19H842.88V396.87H844.07V396.59H845.11V396.35H845.80V396.19H846.83V395.95H847.63V395.77H848.37V395.60H849.41V395.36H850.69V395.06H851.56V394.86H852.82V394.57H853.88V394.32H854.63V394.15H856.05V393.82H857.01V393.60H857.88V393.39H859.21V393.09H859.94V392.92H861.17V392.63H861.95V392.45H862.90V392.23H863.72V392.03H865.04V391.72H865.99V391.50H867.42V391.17H868.57V390.90H869.77V390.61H870.82V390.36H871.71V390.16H872.66V389.93H874.06V389.60H874.86V389.41H876.30V389.07H877.56V388.77H878.48V388.55H879.64V388.27H880.58V388.04H881.52V387.82H882.56V387.57H883.20V387.41H884.23V387.16H885.66V386.81H886.52V386.60H887.77V386.30H888.76V386.06H889.56V385.86H890.94V385.52H891.57V385.37H892.45V385.15H893.91V384.79H894.75V384.59H896.08V384.26H897.20V383.98H898.50V383.66H899.65V383.37H900.57V383.14H901.83V382.83H902.47V382.67H903.47V382.42H904.40V382.19H905.42V381.93H906.15V381.75H906.96V381.55H908.05V381.28H909.00V381.04H910.28V380.72H911.41V380.44H912.75V380.11H913.98V379.81H915.10V379.53H915.97V379.31H917.24V379.00H918.08V378.79H918.76V378.63H920.19V378.28H921.26V378.01H922.53V377.70H923.59V377.44H924.72V377.17H925.37V377.01H926.15V376.82H927.34V376.54H928.44V376.27H929.19V376.09H930.61V375.75H931.36V375.58H932.41V375.33H933.15V375.15H934.37V374.87H935.23V374.67H935.96V374.49H936.62V374.34H937.39V374.16H938.17V373.98H939.25V373.73H940.24V373.51H941.66V373.18H943.08V372.86H944.37V372.57H945.55V372.31H946.88V372.02H948.28V371.71H948.92V371.57H949.64V371.41H950.57V371.21H951.27V371.06H952.39V370.82H953.23V370.64H954.08V370.45H954.94V370.27H955.64V370.12H956.88V369.85H958.05V369.61H959.18V369.37H959.83V369.23H960.81V369.02H962.00V368.77H962.76V368.61H963.70V368.41H964.34V368.27H965.03V368.12H965.84V367.95H966.81V367.75H967.82V367.53H969.17V367.24H970.06V367.05H970.70V366.91H972.01V366.63H972.69V366.49H973.18V366.38L991.03,361.44L1001.34,361.44L1001.77,360.01L1009.31,360.01L1009.57,358.01L1024.30,358.01" fill="none" stroke="#bb4a3c" stroke-width="1.7" stroke-linejoin="round"/>
<path d="M697.70,436.90H698.54V436.84H699.41V436.53H700.71V436.07H701.41V435.82H702.54V435.42H703.77V434.99H704.55V434.71H705.22V434.48H706.07V434.18H707.24V433.77H708.33V433.40H709.08V433.14H710.06V432.80H711.24V432.40H712.22V432.07H713.37V431.68H714.80V431.20H715.99V430.80H716.94V430.48H717.72V430.22H718.63V429.92H719.68V429.57H721.04V429.13H722.31V428.71H723.20V428.42H724.59V427.97H725.61V427.65H726.81V427.26H727.52V427.03H728.23V426.81H729.02V426.56H730.38V426.13H731.57V425.75H732.90V425.34H734.06V424.97H735.02V424.68H736.08V424.35H737.19V424.01H738.53V423.60H739.52V423.29H740.89V422.88H742.02V422.54H743.34V422.14H744.37V421.83H745.57V421.47H746.48V421.20H747.54V420.89H748.34V420.65H749.05V420.44H749.71V420.25H750.91V419.90H751.92V419.61H753.29V419.21H754.60V418.83H755.55V418.55H756.98V418.14H758.10V417.82H759.36V417.47H760.32V417.19H761.11V416.97H761.87V416.75H762.65V416.54H763.78V416.22H764.49V416.02H765.13V415.84H766.45V415.48H767.16V415.28H768.15V415.01H769.18V414.72H770.32V414.41H771.37V414.12H772.77V413.74H774.02V413.40H775.12V413.10H776.26V412.80H777.30V412.52H778.73V412.13H779.54V411.92H780.74V411.60H781.82V411.31H782.48V411.14H783.35V410.91H784.75V410.54H786.02V410.20H786.66V410.04H787.53V409.81H788.16V409.65H789.47V409.30H790.19V409.12H790.86V408.95H792.30V408.57H793.29V408.32H794.18V408.09H794.84V407.92H795.79V407.68H796.72V407.44H797.78V407.17H798.41V407.01H799.16V406.82H799.95V406.62H800.94V406.37H801.82V406.15H802.95V405.86H803.81V405.64H805.19V405.30H806.62V404.94H807.29V404.78H808.09V404.58H809.18V404.31H810.45V403.99H811.12V403.83H811.90V403.63H812.90V403.39H814.08V403.10H815.46V402.76H816.80V402.43H818.09V402.12H818.75V401.96H820.19V401.61H821.33V401.34H822.02V401.17H822.86V400.97H824.00V400.69H824.94V400.47H825.94V400.23H827.23V399.92H828.54V399.61H829.62V399.35H830.90V399.05H831.86V398.82H833.30V398.48H834.42V398.22H835.85V397.88H836.51V397.73H837.87V397.41H838.96V397.15H840.17V396.87H840.96V396.69H842.04V396.44H842.90V396.23H843.61V396.07H844.24V395.92H845.62V395.61H846.80V395.33H847.59V395.15H848.43V394.96H849.44V394.73H850.75V394.43H851.47V394.26H852.90V393.93H854.31V393.61H855.13V393.42H856.29V393.16H857.21V392.95H858.42V392.68H859.11V392.52H860.13V392.29H861.24V392.04H862.39V391.78H863.59V391.51H864.95V391.20H865.78V391.02H866.53V390.85H867.48V390.63H868.57V390.39H869.99V390.07H871.21V389.80H872.45V389.52H873.88V389.20H874.73V389.01H875.57V388.83H876.54V388.61H877.41V388.42H878.58V388.16H879.99V387.84H880.74V387.68H881.80V387.44H882.98V387.18H884.02V386.95H885.40V386.65H886.64V386.37H888.00V386.08H888.71V385.92H889.50V385.74H890.18V385.59H891.49V385.31H892.92V384.99H893.55V384.85H894.83V384.57H896.06V384.30H897.44V384.00H898.29V383.81H899.51V383.55H900.33V383.37H901.01V383.21H902.26V382.94H902.92V382.80H904.12V382.53H904.98V382.35H906.01V382.12H907.38V381.82H908.20V381.64H909.21V381.42H910.13V381.22H910.92V381.04H911.93V380.82H912.71V380.65H914.00V380.37H915.13V380.12H915.99V379.93H917.42V379.62H918.33V379.42H919.52V379.16H920.75V378.89H921.59V378.70H922.23V378.56H923.59V378.26H925.01V377.95H925.78V377.78H926.53V377.61H927.51V377.40H928.63V377.15H930.08V376.83H931.51V376.52H932.95V376.20H933.78V376.01H934.90V375.76H935.89V375.54H936.70V375.36H937.38V375.21H938.14V375.04H939.07V374.84H939.76V374.68H940.51V374.51H941.17V374.37H942.32V374.11H943.35V373.88H944.18V373.70H945.24V373.46H946.21V373.24H947.39V372.97H948.78V372.66H949.70V372.45H950.86V372.19H951.67V372.01H953.07V371.69H954.21V371.43H954.97V371.26H955.80V371.06H956.56V370.89H957.33V370.71H958.21V370.51H959.52V370.21H960.52V369.98H961.38V369.78H962.35V369.55H963.20V369.35H964.43V369.06H965.10V368.91H965.97V368.70H966.86V368.49H967.63V368.31H968.87V368.01H969.65V367.83H970.52V367.62H971.19V367.46H972.44V367.15H973.18V366.98L991.03,361.44L1001.34,361.44L1001.77,360.01L1024.30,360.01" fill="none" stroke="#3a5a86" stroke-width="1.7" stroke-linejoin="round"/>
<path d="M742.50,272.30H743.28V272.30H744.33V271.65H744.88V271.28H745.93V270.59H746.58V270.17H747.31V269.69H748.28V269.06H749.00V268.60H749.80V268.09H750.28V267.78H751.21V267.20H752.00V266.69H752.67V266.28H753.62V265.68H754.27V265.28H755.01V264.82H755.56V264.49H756.27V264.05H756.86V263.69H757.48V263.31H758.41V262.76H759.05V262.37H759.81V261.92H760.88V261.28H761.93V260.66H762.84V260.13H763.64V259.66H764.27V259.29H764.84V258.97H765.90V258.36H766.68V257.91H767.21V257.61H768.06V257.13H769.00V256.60H769.85V256.13H770.88V255.55H771.36V255.28H772.15V254.85H772.90V254.44H773.40V254.16H774.26V253.70H775.25V253.16H776.08V252.71H776.70V252.38H777.68V251.86H778.46V251.44H779.24V251.03H780.17V250.55H780.72V250.25H781.69V249.75H782.57V249.29H783.52V248.80H784.10V248.50H785.06V248.01H785.64V247.72H786.16V247.46H787.15V246.96H788.14V246.46H789.15V245.96H789.90V245.58H790.53V245.27H791.00V245.04H791.86V244.61H792.77V244.17H793.75V243.69H794.38V243.38H794.98V243.09H795.84V242.68H796.80V242.22H797.85V241.71H798.41V241.45H799.17V241.09H800.19V240.61H800.91V240.27H801.74V239.88H802.22V239.66H803.09V239.25H804.12V238.77H805.10V238.32H806.11V237.86H806.98V237.46H807.59V237.18H808.53V236.75H809.12V236.48H810.10V236.04H810.60V235.81H811.57V235.38H812.14V235.12H812.83V234.81H813.49V234.52H814.38V234.12H814.95V233.87H815.66V233.55H816.13V233.35H816.75V233.07H817.48V232.75H818.00V232.52H818.86V232.15H819.56V231.84H820.47V231.45H821.33V231.07H822.06V230.75H823.06V230.32H823.91V229.95H824.88V229.54H825.55V229.25H826.35V228.91H826.93V228.66H828.01V228.20H828.62V227.93H829.25V227.67H829.75V227.45H830.38V227.19H831.31V226.79H832.20V226.41H832.75V226.18H833.44V225.89H834.16V225.59H835.04V225.22H835.78V224.91H836.61V224.56H837.59V224.15H838.50V223.77H839.19V223.48H839.93V223.17H840.62V222.88H841.15V222.66H841.74V222.41H842.38V222.15H843.03V221.87H843.69V221.60H844.51V221.26H845.57V220.82H846.51V220.42H847.46V220.03H848.39V219.64H849.23V219.30H850.26V218.87H851.14V218.50H851.92V218.18H852.43V217.97H853.19V217.65H853.78V217.40H854.33V217.18H855.11V216.85H856.05V216.46H856.70V216.19H857.64V215.80H858.42V215.47H858.98V215.24H860.04V214.80H860.75V214.50H861.39V214.23H862.38V213.82H862.92V213.59H863.83V213.21H864.41V212.97H865.12V212.67H865.72V212.42H866.71V212.00H867.41V211.71H868.47V211.26H869.32V210.90H870.21V210.52H871.00V210.19H871.65V209.91H872.36V209.61H873.40V209.16H873.99V208.91H875.06V208.45H876.00V208.06H876.68V207.76H877.54V207.39H878.24V207.09H878.94V206.79H879.71V206.45H880.18V206.25H880.95V205.91H882.01V205.45H882.65V205.17H883.58V204.76H884.31V204.44H884.91V204.18H885.93V203.73H886.40V203.52H887.05V203.23H888.13V202.75H888.76V202.47H889.74V202.03H890.58V201.66H891.54V201.23H892.39V200.85H893.08V200.54H894.01V200.13H894.49V199.91H895.23V199.58H895.92V199.27H896.68V198.93H897.22V198.69H897.82V198.42H898.63V198.06H899.33V197.74H900.29V197.32H901.12V196.95H902.12V196.50H903.03V196.09H903.87V195.72H904.51V195.44H905.45V195.02H906.07V194.74H906.58V194.52H907.64V194.05H908.43V193.70H909.37V193.29H910.16V192.94H911.00V192.58H911.49V192.36H912.07V192.11H912.95V191.73H913.76V191.38H914.32V191.14H915.37V190.69H915.93V190.45H916.71V190.12H917.26V189.88H918.17V189.50H918.80V189.23H919.35V189.00H919.84V188.80H920.41V188.56H920.99V188.32H921.78V187.99H922.53V187.69H923.58V187.25H924.63V186.83H925.59V186.44H926.46V186.09H927.45V185.70H928.49V185.29H928.97V185.10H929.50V184.89H930.19V184.62H930.71V184.42H931.54V184.10H932.17V183.85H932.79V183.61H933.43V183.37H933.96V183.16H934.88V182.81H935.74V182.48H936.58V182.16H937.06V181.98H937.79V181.70H938.68V181.36H939.24V181.15H939.94V180.88H940.41V180.70H940.93V180.50H941.52V180.27H942.24V180.00H942.99V179.71H944.00V179.32H944.66V179.07H945.13V178.89H946.11V178.51H946.61V178.32H946.97V178.17L960.22,171.58L967.87,171.58L968.19,169.67L973.79,169.67L973.98,167.01L984.91,167.01" fill="none" stroke="#bb4a3c" stroke-width="1.7" stroke-linejoin="round"/>
<path d="M742.50,272.30H743.12V272.22H743.77V271.81H744.74V271.19H745.26V270.85H746.09V270.32H747.00V269.74H747.58V269.38H748.08V269.07H748.71V268.67H749.58V268.13H750.39V267.62H750.95V267.28H751.68V266.83H752.55V266.29H753.28V265.85H754.13V265.33H755.19V264.69H756.07V264.15H756.78V263.73H757.36V263.39H758.03V262.98H758.81V262.52H759.83V261.92H760.77V261.37H761.43V260.99H762.46V260.38H763.21V259.95H764.11V259.43H764.63V259.13H765.16V258.83H765.75V258.49H766.76V257.92H767.64V257.42H768.63V256.86H769.49V256.38H770.20V255.98H770.98V255.55H771.81V255.09H772.81V254.54H773.54V254.14H774.56V253.59H775.40V253.13H776.37V252.60H777.14V252.19H778.03V251.71H778.71V251.35H779.49V250.93H780.09V250.61H780.61V250.34H781.10V250.08H782.00V249.61H782.74V249.22H783.76V248.68H784.74V248.18H785.44V247.81H786.50V247.26H787.33V246.84H788.27V246.36H788.98V246.00H789.56V245.70H790.13V245.41H790.71V245.12H791.54V244.70H792.08V244.43H792.55V244.19H793.53V243.71H794.05V243.44H794.79V243.08H795.56V242.70H796.40V242.28H797.18V241.90H798.22V241.39H799.15V240.94H799.96V240.54H800.81V240.13H801.58V239.75H802.64V239.24H803.24V238.96H804.13V238.53H804.94V238.15H805.43V237.91H806.07V237.61H807.11V237.12H808.06V236.67H808.53V236.45H809.17V236.14H809.64V235.92H810.62V235.47H811.15V235.22H811.64V234.99H812.71V234.49H813.45V234.15H814.11V233.84H814.60V233.62H815.31V233.29H816.00V232.98H816.78V232.62H817.25V232.40H817.80V232.15H818.40V231.88H819.13V231.55H819.78V231.25H820.62V230.87H821.26V230.58H822.29V230.12H823.34V229.65H823.84V229.42H824.43V229.16H825.25V228.80H826.18V228.38H826.69V228.16H827.26V227.90H828.01V227.57H828.88V227.18H829.90V226.73H830.90V226.30H831.86V225.88H832.35V225.66H833.42V225.20H834.26V224.83H834.78V224.61H835.40V224.34H836.24V223.98H836.94V223.67H837.68V223.35H838.64V222.94H839.61V222.53H840.41V222.18H841.37V221.78H842.08V221.47H843.14V221.02H843.98V220.67H845.04V220.22H845.53V220.01H846.54V219.59H847.35V219.25H848.25V218.87H848.83V218.63H849.63V218.29H850.28V218.02H850.80V217.80H851.27V217.61H852.29V217.18H853.17V216.82H853.76V216.58H854.38V216.32H855.13V216.01H856.10V215.61H856.63V215.39H857.69V214.95H858.74V214.52H859.35V214.27H860.21V213.92H860.90V213.64H861.79V213.27H862.31V213.06H863.06V212.76H863.89V212.42H864.74V212.08H865.63V211.72H866.64V211.30H867.25V211.06H867.81V210.83H868.51V210.55H869.33V210.22H870.38V209.79H871.29V209.43H872.20V209.06H873.27V208.64H873.90V208.39H874.52V208.14H875.24V207.85H875.89V207.59H876.75V207.24H877.80V206.82H878.36V206.60H879.14V206.29H880.02V205.94H880.79V205.63H881.82V205.23H882.74V204.86H883.74V204.46H884.28V204.25H884.86V204.02H885.36V203.82H886.34V203.44H887.40V203.02H887.87V202.83H888.82V202.46H889.73V202.10H890.75V201.69H891.38V201.44H892.29V201.09H892.90V200.85H893.41V200.64H894.33V200.28H894.82V200.09H895.71V199.74H896.35V199.48H897.12V199.18H898.13V198.78H898.74V198.54H899.49V198.25H900.18V197.98H900.76V197.75H901.51V197.45H902.09V197.22H903.04V196.85H903.89V196.51H904.52V196.26H905.59V195.84H906.26V195.58H907.14V195.23H908.06V194.87H908.68V194.62H909.15V194.43H910.17V194.03H911.22V193.62H911.79V193.39H912.35V193.17H913.08V192.88H913.91V192.55H914.98V192.12H916.04V191.70H917.11V191.28H917.73V191.03H918.56V190.70H919.29V190.41H919.90V190.16H920.40V189.96H920.97V189.74H921.65V189.46H922.17V189.25H922.72V189.03H923.22V188.84H924.06V188.49H924.83V188.19H925.44V187.94H926.23V187.62H926.96V187.33H927.83V186.98H928.86V186.56H929.55V186.28H930.41V185.93H931.00V185.69H932.05V185.26H932.89V184.91H933.45V184.68H934.07V184.43H934.64V184.20H935.21V183.96H935.86V183.69H936.83V183.29H937.58V182.98H938.21V182.71H938.93V182.41H939.56V182.14H940.48V181.76H940.98V181.55H941.62V181.27H942.28V180.99H942.86V180.75H943.77V180.35H944.35V180.11H945.00V179.83H945.49V179.61H946.42V179.21H946.97V178.97L960.22,171.58L967.87,171.58L968.19,169.67L984.91,169.67" fill="none" stroke="#3a5a86" stroke-width="1.7" stroke-linejoin="round"/>
<text x="228.6" y="71" font-family="'DejaVu Sans Condensed','DejaVu Sans',sans-serif" font-size="13.8" fill="#333333" stroke="#333333" stroke-width="0.2" textLength="244.6" lengthAdjust="spacingAndGlyphs">Hazard ratio, 0.92 (95% CI, 0.86–0.99)</text>
<text x="228.5" y="89" font-family="'DejaVu Sans Condensed','DejaVu Sans',sans-serif" font-size="13.8" fill="#333333" stroke="#333333" stroke-width="0.2" textLength="45.3" lengthAdjust="spacingAndGlyphs">P=0.03</text>
<text x="750.4" y="92.8" font-family="'DejaVu Sans Condensed','DejaVu Sans',sans-serif" font-size="13.8" fill="#333333" stroke="#333333" stroke-width="0.2" textLength="243.8" lengthAdjust="spacingAndGlyphs">Hazard ratio, 1.01 (95% CI, 0.92–1.11)</text>
</svg>
</body></html>
